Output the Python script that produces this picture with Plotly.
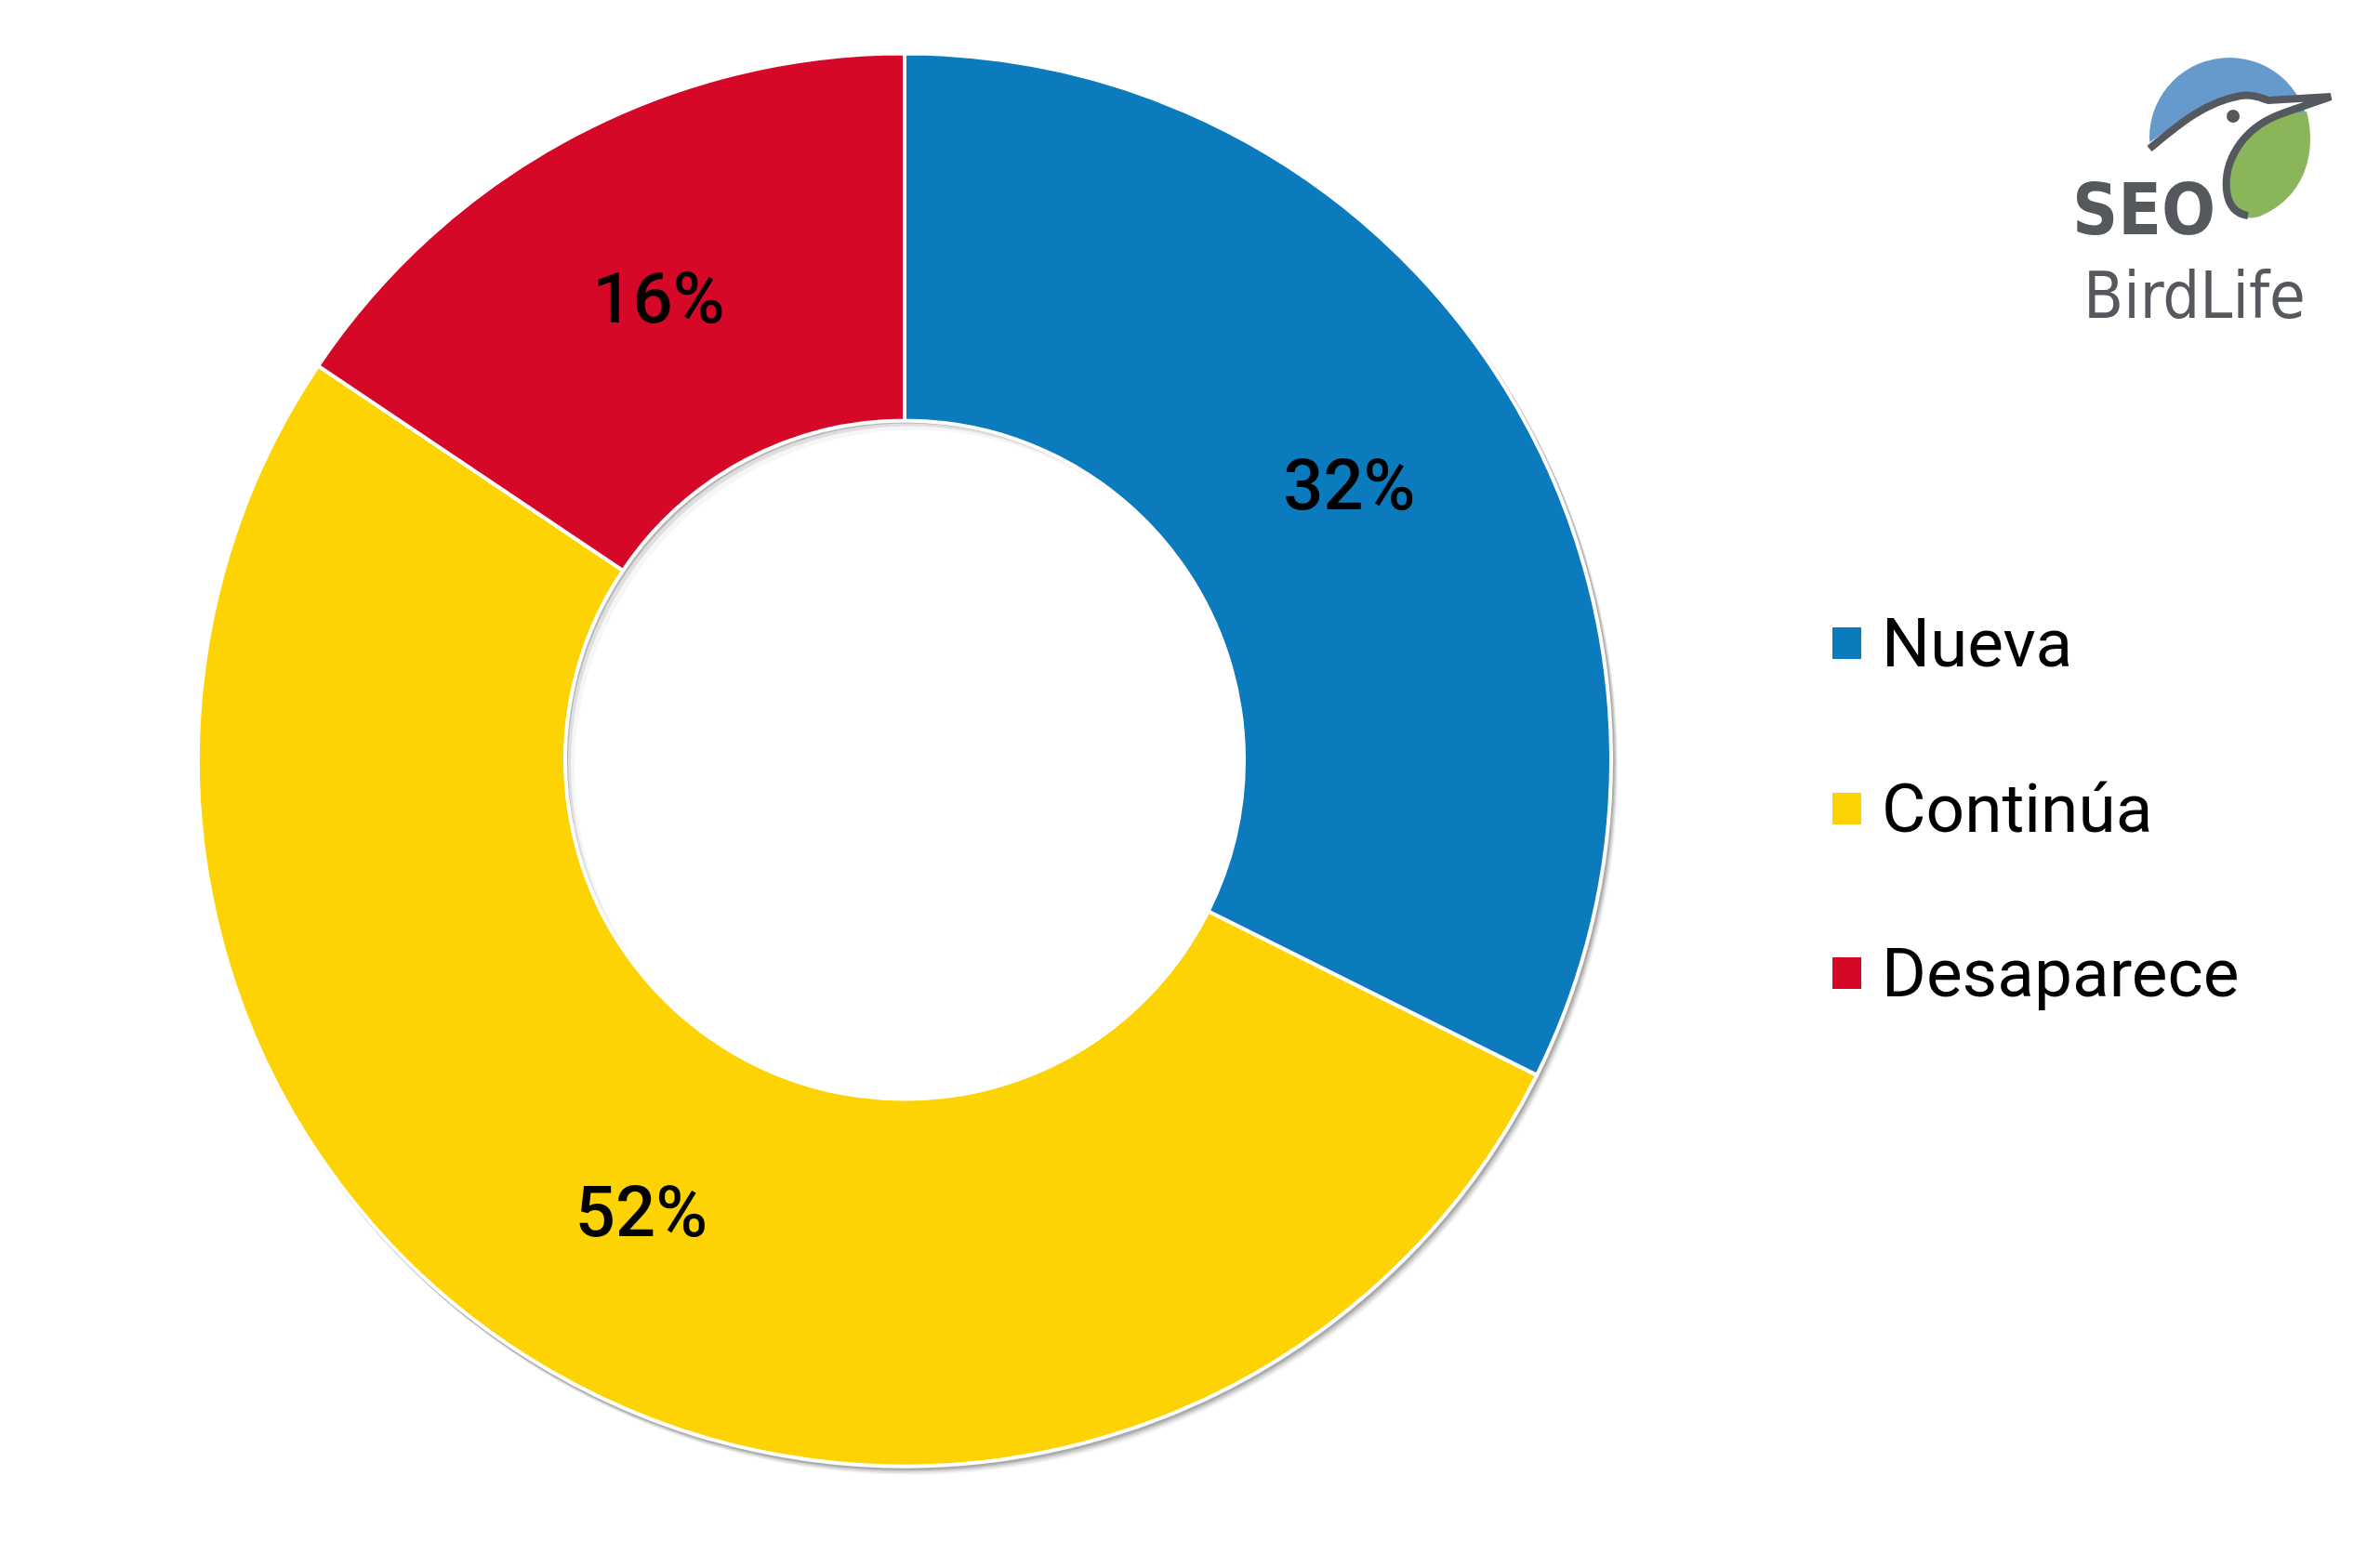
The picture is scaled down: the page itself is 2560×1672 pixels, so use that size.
import plotly.graph_objects as go

# datos (lectura del gráfico)
labels = ["Nueva", "Continúa", "Desaparece"]
values = [32.4, 52.1, 15.6]
colors = ["#0c7bbd", "#fdd303", "#d60828"]

W, H = 2560, 1672
CX, CY, R_OUT, R_IN = 973, 817.5, 760, 365


def p(x, y):
    # pixel -> paper
    return x / W, 1 - y / H


def circle(cx, cy, r, fill, layer="below"):
    x0, y0 = p(cx - r, cy + r)
    x1, y1 = p(cx + r, cy - r)
    return dict(type="circle", xref="paper", yref="paper", layer=layer,
                x0=x0, y0=y0, x1=x1, y1=y1, fillcolor=fill, line=dict(width=0))


def make_path(cmds):
    out = []
    for c, pts in cmds:
        if c == "Z":
            out.append("Z")
            continue
        out.append(c + " " + " ".join("%.5f,%.5f" % p(x, y) for x, y in pts))
    return " ".join(out)


fig = go.Figure()

fig.add_trace(go.Pie(
    labels=labels,
    values=values,
    hole=R_IN / R_OUT,
    sort=False,
    direction="clockwise",
    rotation=0,
    marker=dict(colors=colors, line=dict(color="white", width=4)),
    texttemplate="%{percent:.0%}",
    textposition="inside",
    insidetextorientation="horizontal",
    textfont=dict(family="Roboto", size=76, color="black", weight=500),
    showlegend=False,
    domain=dict(x=[(CX - R_OUT) / W, (CX + R_OUT) / W],
                y=[1 - (CY + R_OUT) / H, 1 - (CY - R_OUT) / H]),
))

shapes = []
# sombra exterior (solo se ve fuera del anillo)
for d, a in [(9, 0.05), (7, 0.07), (5, 0.10), (3, 0.14)]:
    shapes.append(circle(CX + d * 0.6, CY + d * 0.8, R_OUT + 2, "rgba(0,0,0,%s)" % a))
# sombra interior del hueco
shapes.append(circle(CX, CY, R_IN + 4, "white"))
shapes.append(circle(CX, CY, R_IN + 2, "rgba(0,0,0,0.28)"))
shapes.append(circle(CX + 3, CY + 3, R_IN, "rgba(255,255,255,0.55)"))
shapes.append(circle(CX + 6, CY + 6, R_IN, "rgba(255,255,255,0.7)"))
shapes.append(circle(CX + 10, CY + 10, R_IN, "white"))

# leyenda
legend_y = [692, 870, 1047]
annotations = []
for lab, col, ly in zip(labels, colors, legend_y):
    x0, y0 = p(1971, ly + 17)
    x1, y1 = p(2002, ly - 17)
    shapes.append(dict(type="rect", xref="paper", yref="paper",
                       x0=x0, y0=y0, x1=x1, y1=y1,
                       fillcolor=col, line=dict(width=0)))
    tx, ty = p(2022, ly)
    annotations.append(dict(text=lab, xref="paper", yref="paper", x=tx, y=ty,
                            xanchor="left", yanchor="middle", showarrow=False,
                            font=dict(family="Roboto", size=73, color="black")))

# logo SEO BirdLife
gray = "#55595d"
shapes.append(circle(2398, 148, 86, "#6699cc", layer="above"))
white_area = [
    ("M", [(2300, 162)]),
    ("C", [(2335, 137), (2370, 110), (2410, 103)]),
    ("C", [(2425, 101), (2433, 106), (2440, 108)]),
    ("L", [(2507, 104)]),
    ("C", [(2485, 112), (2465, 118), (2450, 124)]),
    ("C", [(2410, 140), (2392, 175), (2395, 205)]),
    ("C", [(2397, 222), (2405, 230), (2415, 240)]),
    ("L", [(2415, 250)]),
    ("L", [(2300, 250)]),
    ("Z", []),
]
shapes.append(dict(type="path", xref="paper", yref="paper", path=make_path(white_area),
                   fillcolor="white", line=dict(width=0)))
green_area = [
    ("M", [(2450, 124)]),
    ("L", [(2481, 120)]),
    ("C", [(2492, 160), (2482, 212), (2430, 233)]),
    ("C", [(2420, 236), (2410, 234), (2405, 228)]),
    ("C", [(2396, 218), (2393, 200), (2395, 190)]),
    ("C", [(2398, 160), (2420, 136), (2450, 124)]),
    ("Z", []),
]
shapes.append(dict(type="path", xref="paper", yref="paper", path=make_path(green_area),
                   fillcolor="#8ab55a", line=dict(width=0)))
outline = [
    ("M", [(2312, 160)]),
    ("C", [(2340, 137), (2370, 110), (2410, 103)]),
    ("C", [(2425, 101), (2433, 106), (2440, 108)]),
    ("L", [(2507, 104)]),
    ("C", [(2485, 112), (2465, 118), (2450, 124)]),
    ("C", [(2410, 140), (2392, 175), (2395, 205)]),
    ("C", [(2397, 222), (2405, 230), (2418, 232)]),
]
shapes.append(dict(type="path", xref="paper", yref="paper", path=make_path(outline),
                   line=dict(color=gray, width=8)))
shapes.append(circle(2402, 125, 7, gray, layer="above"))

sx, sy = p(2306, 225)
annotations.append(dict(text="<b>SEO</b>", xref="paper", yref="paper", x=sx, y=sy,
                        xanchor="center", yanchor="middle", showarrow=False,
                        font=dict(family="DejaVu Sans Condensed, DejaVu Sans",
                                  size=76, color=gray)))
bx, by = p(2360, 318)
annotations.append(dict(text="BirdLife", xref="paper", yref="paper", x=bx, y=by,
                        xanchor="center", yanchor="middle", showarrow=False,
                        font=dict(family="DejaVu Sans Condensed, DejaVu Sans",
                                  size=70, color=gray)))

fig.update_layout(
    width=W, height=H,
    margin=dict(l=0, r=0, t=0, b=0),
    paper_bgcolor="white",
    plot_bgcolor="white",
    shapes=shapes,
    annotations=annotations,
)

fig.write_html("out.html", config={"displayModeBar": False},
               post_script="document.body.style.margin='0';")
